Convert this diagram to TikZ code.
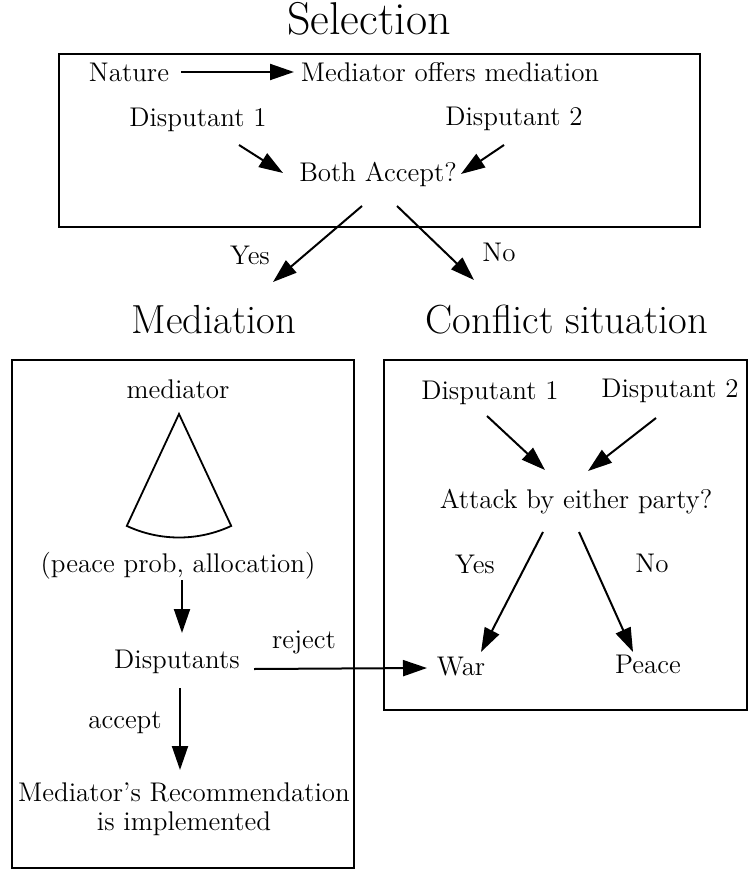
\documentclass[tikz,border=0pt]{standalone}
\usepackage{amssymb,amsmath}
\usepackage{tikz}
\usetikzlibrary{arrows.meta}

\begin{document}
\begin{tikzpicture}[x=0.5pt,y=-0.5pt]
\tikzstyle{every node}=[inner sep=0pt,anchor=base,font=\fontsize{13.5}{16}\selectfont];
\tikzstyle{title}=[font=\fontsize{20.3}{24}\selectfont];
\tikzstyle{frame}=[line width=1.3pt];
\tikzstyle{arr}=[line width=1pt,-{Triangle[length=12pt,width=8pt]}];
\useasboundingbox (0,0) rectangle (749,871);

% selection stage
\node [title,font=\fontsize{23}{27}\selectfont](sel) at (369,35) {Selection};
\draw [frame] (59,54) rectangle (700,227);
\node (nat) at (129,82) {Nature};
\node (off) at (450,82) {Mediator offers mediation};
\node (d1t) at (198,127) {Disputant 1};
\node (d2t) at (514,126) {Disputant 2};
\node (both) at (378,182) {Both Accept?};
\node (yes1) at (250,264) {Yes};
\node (no1) at (499,262) {No};
\draw [arr] ([shift={(52,-10)}]nat.base) -- ([shift={(-156,-10)}]off.base);
\draw [arr] ([shift={(41,18)}]d1t.base) -- ([shift={(-95,-9)}]both.base);
\draw [arr] ([shift={(-10,19)}]d2t.base) -- ([shift={(83,-8)}]both.base);

% mediation stage
\node [title](medt) at (214,333) {Mediation};
\draw [frame] (12,360) rectangle (354,868);
\node (medr) at (178,398) {mediator};
\draw [line width=0.9pt] (179,414) -- ++(115:123.5) arc [start angle=115,end angle=65,radius=123.5] -- cycle;
\node (alloc) at (178,572) {(peace prob, allocation)};
\node (disp) at (177,668) {Disputants};
\node (rej) at (304,648) {reject};
\node (acc) at (125,728) {accept};
\node [align=center,anchor=north,font=\fontsize{13.5}{14.5}\selectfont](rec) at (184,782) {Mediator's Recommendation\\is implemented};
\draw [arr] ([shift={(4,8)}]alloc.base) -- ([shift={(5,-35)}]disp.base);
\draw [arr] ([shift={(3,20)}]disp.base) -- ([shift={(-4,-12)}]rec.north);

% conflict stage
\node [title](cont) at (567,333) {Conflict situation};
\draw [frame] (384,360) rectangle (747,710);
\node (d1c) at (490,399) {Disputant 1};
\node (d2c) at (670,397) {Disputant 2};
\node (att) at (576,508) {Attack by either party?};
\node (yes2) at (475,573) {Yes};
\node (no2) at (652,572) {No};
\node (war) at (461,675) {War};
\node (peace) at (648,673) {Peace};
\draw [arr] ([shift={(-3,17)}]d1c.base) -- ([shift={(-31,-38)}]att.base);
\draw [arr] ([shift={(-14,21)}]d2c.base) -- ([shift={(12,-37)}]att.base);
\draw [arr] ([shift={(-33,24)}]att.base) -- ([shift={(20,-23)}]war.base);
\draw [arr] ([shift={(3,24)}]att.base) -- ([shift={(-15,-21)}]peace.base);

% links between stages
\draw [arr] ([shift={(-16,24)}]both.base) -- ([shift={(59,-51)}]medt.base);
\draw [arr] ([shift={(19,24)}]both.base) -- ([shift={(-93,-53)}]cont.base);
\draw [arr] ([shift={(77,1)}]disp.base) -- ([shift={(-34,-7)}]war.base);
\end{tikzpicture}
\end{document}
